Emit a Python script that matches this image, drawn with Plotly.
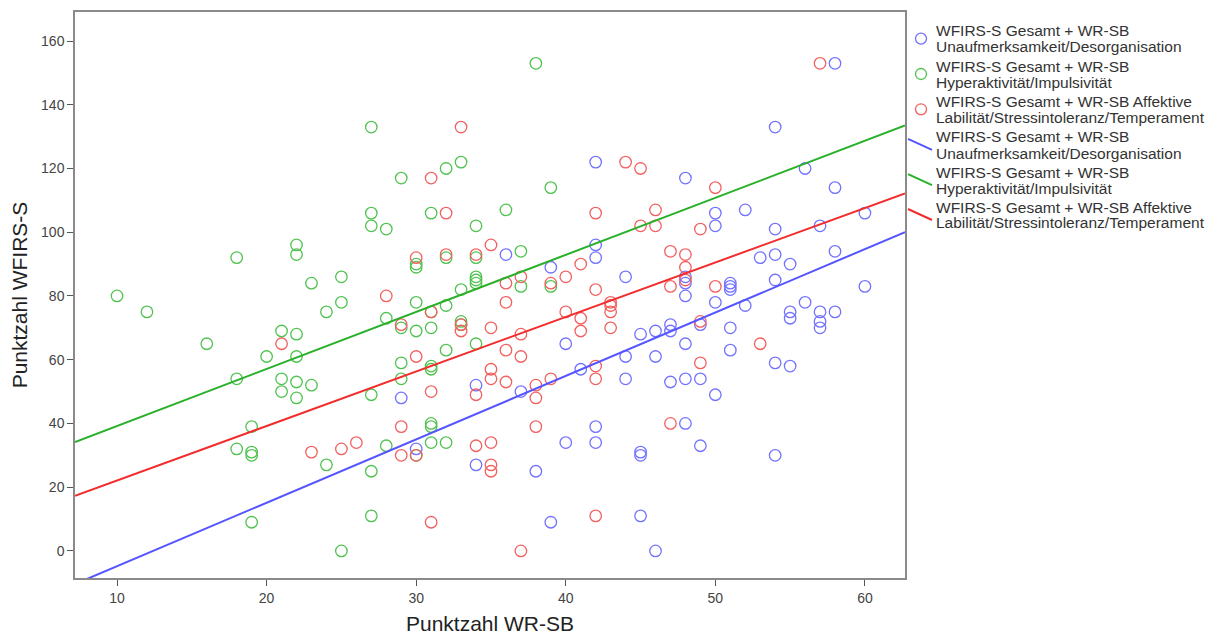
import plotly.graph_objects as go

# ---------------- data ----------------
series_names = [
    "WFIRS-S Gesamt + WR-SB<br>Unaufmerksamkeit/Desorganisation",
    "WFIRS-S Gesamt + WR-SB<br>Hyperaktivität/Impulsivität",
    "WFIRS-S Gesamt + WR-SB Affektive<br>Labilität/Stressintoleranz/Temperament",
]

blue_x = [29, 30, 34, 34, 36, 37, 38, 39, 39, 40, 40, 41, 42, 42, 42, 42, 42, 44, 44, 44,
          45, 45, 45, 45, 46, 46, 46, 47, 47, 47, 48, 48, 48, 48, 48, 48, 48, 49, 49, 49,
          50, 50, 50, 50, 51, 51, 51, 51, 51, 52, 52, 53, 54, 54, 54, 54, 54, 54, 55, 55,
          55, 55, 56, 56, 57, 57, 57, 57, 58, 58, 58, 58, 60, 60]
blue_y = [48, 32, 52, 27, 93, 50, 25, 89, 9, 65, 34, 57, 122, 96, 92, 39, 34, 86, 61, 54,
          68, 31, 30, 11, 69, 61, 0, 71, 69, 53, 117, 86, 84, 80, 65, 54, 40, 71, 54, 33,
          106, 102, 78, 49, 84, 83, 82, 70, 63, 107, 77, 92, 133, 101, 93, 85, 59, 30, 90, 75,
          73, 58, 120, 78, 102, 75, 72, 70, 153, 114, 94, 75, 106, 83]

green_x = [10, 12, 16, 18, 18, 18, 19, 19, 19, 19, 20, 21, 21, 21, 22, 22, 22, 22, 22, 22,
           23, 23, 24, 24, 25, 25, 25, 27, 27, 27, 27, 27, 27, 28, 28, 28, 29, 29, 29, 29,
           30, 30, 30, 30, 30, 31, 31, 31, 31, 31, 31, 31, 31, 32, 32, 32, 32, 32, 33, 33,
           33, 33, 34, 34, 34, 34, 34, 34, 36, 37, 37, 38, 39, 39]
green_y = [80, 75, 65, 92, 54, 32, 39, 31, 30, 9, 61, 69, 54, 50, 96, 93, 68, 61, 53, 48,
           84, 52, 75, 27, 86, 78, 0, 133, 106, 102, 49, 25, 11, 101, 73, 33, 117, 70, 59, 54,
           90, 89, 78, 69, 30, 106, 75, 70, 58, 57, 40, 39, 34, 120, 92, 77, 63, 34, 122, 82,
           72, 71, 102, 92, 86, 85, 84, 65, 107, 94, 83, 153, 114, 83]

red_x = [21, 23, 25, 26, 28, 29, 29, 29, 30, 30, 30, 31, 31, 31, 31, 32, 32, 33, 33, 33,
         34, 34, 34, 35, 35, 35, 35, 35, 35, 35, 36, 36, 36, 36, 37, 37, 37, 37, 38, 38,
         38, 39, 39, 40, 40, 41, 41, 41, 42, 42, 42, 42, 42, 43, 43, 43, 43, 44, 45, 45,
         46, 46, 47, 47, 47, 48, 48, 48, 49, 49, 49, 50, 50, 53, 57]
red_y = [65, 31, 32, 34, 80, 71, 39, 30, 92, 61, 30, 117, 75, 50, 9, 106, 93, 133, 71, 69,
         93, 49, 33, 96, 70, 57, 54, 34, 27, 25, 84, 78, 63, 53, 86, 68, 61, 0, 52, 48,
         39, 84, 54, 86, 75, 90, 73, 69, 106, 82, 58, 54, 11, 78, 77, 75, 70, 122, 120, 102,
         107, 102, 94, 83, 40, 93, 89, 85, 101, 72, 59, 114, 83, 65, 153]

# fitted lines (intercept, slope)
fit_intercepts = [-24.7, 21.3, 5.0]
fit_slopes = [1.99, 1.79, 1.71]

x_ticks = [10, 20, 30, 40, 50, 60]
y_ticks = [0, 20, 40, 60, 80, 100, 120, 140, 160]
x_range = [7.19, 62.68]
y_range = [-8.5, 169.1]

marker_colors = ["#7272ff", "#4fc24f", "#f26060"]
line_colors = ["#5555ff", "#28b028", "#f22c2c"]

# ---------------- figure ----------------
# page has an 8px body margin, so the figure is sized 8px smaller
W, H = 1212, 627
ML, MR, MT, MB = 67, 315, 4, 57
PW, PH = W - ML - MR, H - MT - MB


def px_to_paper(px, py):
    # px, py in page pixels
    return (px - 8 - ML) / PW, (H - MB - (py - 8)) / PH


fig = go.Figure()
xs = [blue_x, green_x, red_x]
ys = [blue_y, green_y, red_y]
for name, x, y, c in zip(series_names, xs, ys, marker_colors):
    fig.add_trace(go.Scatter(
        x=x, y=y, mode="markers", name=name, showlegend=False,
        marker=dict(symbol="circle-open", size=11.5, color=c, line=dict(width=1.3, color=c)),
        cliponaxis=True,
    ))

for name, b, m, c in zip(series_names, fit_intercepts, fit_slopes, line_colors):
    lx = [x_range[0], x_range[1]]
    ly = [b + m * v for v in lx]
    fig.add_trace(go.Scatter(
        x=lx, y=ly, mode="lines", name=name, showlegend=False,
        line=dict(color=c, width=2),
    ))

font_family = "Liberation Sans, Arial, sans-serif"

# ---- legend drawn as real text + symbol shapes ----
legend_line_y = [[30.7, 46.5], [66, 82], [101.3, 117.3],
                 [136.7, 153.0], [172, 188.3], [207.3, 222.7]]
legend_text_x = 934
annotations = []
shapes = []
entries = [(n, "marker", mc) for n, mc in zip(series_names, marker_colors)] + \
          [(n, "line", lc) for n, lc in zip(series_names, line_colors)]
for (name, kind, color), ly in zip(entries, legend_line_y):
    for txt, yy in zip(name.split("<br>"), ly):
        ax_, ay_ = px_to_paper(legend_text_x, yy)
        annotations.append(dict(
            text=txt, x=ax_, y=ay_, xref="paper", yref="paper",
            xanchor="left", yanchor="middle", showarrow=False,
            font=dict(size=15.5, color="#333333", family=font_family),
        ))
    cy = (ly[0] + ly[1]) / 2
    if kind == "marker":
        x0, y0 = px_to_paper(921 - 5.5, cy + 5.5)
        x1, y1 = px_to_paper(921 + 5.5, cy - 5.5)
        shapes.append(dict(type="circle", xref="paper", yref="paper",
                           x0=x0, y0=y0, x1=x1, y1=y1,
                           line=dict(color=color, width=1.3)))
    else:
        x0, y0 = px_to_paper(908, cy - 6)
        x1, y1 = px_to_paper(932, cy + 5)
        shapes.append(dict(type="line", xref="paper", yref="paper",
                           x0=x0, y0=y0, x1=x1, y1=y1,
                           line=dict(color=color, width=2)))

fig.update_layout(
    width=W, height=H,
    margin=dict(l=ML, r=MR, t=MT, b=MB),
    paper_bgcolor="white", plot_bgcolor="white",
    font=dict(family=font_family, color="#333333"),
    showlegend=False,
    annotations=annotations,
    shapes=shapes,
    xaxis=dict(
        range=x_range, tickvals=x_ticks, ticks="outside", ticklen=6, tickcolor="#555555",
        showgrid=False, zeroline=False, showline=True, mirror=True,
        linecolor="#8a8a8a", linewidth=1.5, automargin=False,
        tickfont=dict(size=14, color="#444444"),
        title=dict(text="Punktzahl WR-SB", font=dict(size=21, color="#222222"), standoff=14),
    ),
    yaxis=dict(
        range=y_range, tickvals=y_ticks, ticks="outside", ticklen=6, tickcolor="#555555",
        showgrid=False, zeroline=False, showline=True, mirror=True,
        linecolor="#8a8a8a", linewidth=1.5, automargin=False,
        tickfont=dict(size=14, color="#444444"),
        title=dict(text="Punktzahl WFIRS-S", font=dict(size=21, color="#222222"), standoff=12),
    ),
)

fig.write_html("out.html")
